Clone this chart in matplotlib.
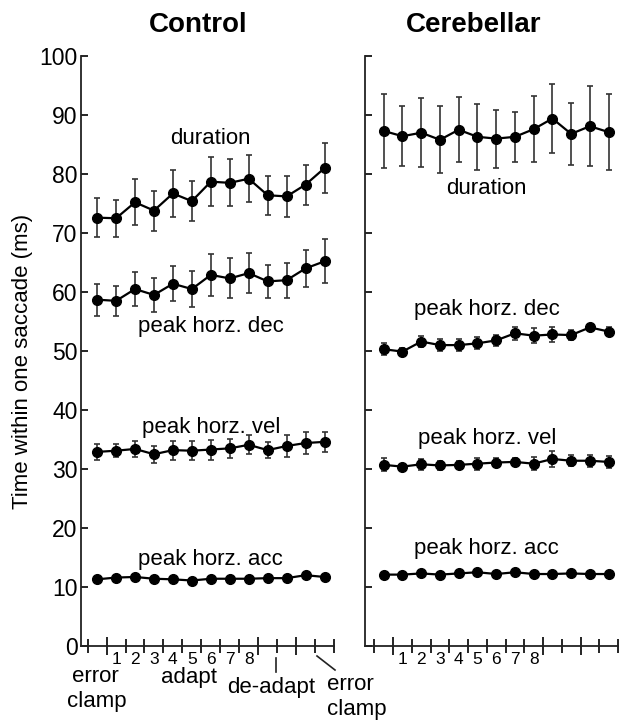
import numpy as np
import matplotlib
matplotlib.use("Agg")
import matplotlib.pyplot as plt
from matplotlib.transforms import blended_transform_factory
from matplotlib.lines import Line2D

plt.rcParams['font.family'] = ['Liberation Sans', 'DejaVu Sans']

# Data: 13 blocks (error clamp, adapt 1-8, de-adapt, error clamp)
x = np.arange(1, 14)
adapt_ticks = [2, 3, 4, 5, 6, 7, 8, 9]
adapt_labels = ['1', '2', '3', '4', '5', '6', '7', '8']

ctrl_dur = [72.6, 72.5, 75.2, 73.8, 76.7, 75.4, 78.7, 78.5, 79.2, 76.4, 76.2, 78.2, 81.0]
ctrl_dur_err = [3.3, 3.1, 3.9, 3.4, 4.0, 3.4, 4.2, 4.0, 4.0, 3.3, 3.5, 3.4, 4.2]
ctrl_dec = [58.7, 58.5, 60.5, 59.5, 61.4, 60.5, 62.9, 62.3, 63.2, 61.8, 62.0, 64.0, 65.2]
ctrl_dec_err = [2.7, 2.6, 2.9, 2.9, 3.0, 3.0, 3.6, 3.4, 3.4, 2.8, 3.0, 3.2, 3.7]
ctrl_vel = [32.9, 33.1, 33.4, 32.5, 33.2, 33.1, 33.3, 33.5, 34.1, 33.2, 33.9, 34.4, 34.6]
ctrl_vel_err = [1.3, 1.1, 1.4, 1.4, 1.6, 1.6, 1.7, 1.6, 1.6, 1.4, 1.8, 1.8, 1.7]
ctrl_acc = [11.3, 11.6, 11.7, 11.4, 11.3, 11.1, 11.4, 11.4, 11.4, 11.5, 11.5, 12.0, 11.7]
ctrl_acc_err = [0.4, 0.4, 0.4, 0.4, 0.4, 0.4, 0.4, 0.4, 0.4, 0.4, 0.4, 0.4, 0.4]

cereb_dur = [87.3, 86.4, 87.0, 85.8, 87.5, 86.3, 86.0, 86.3, 87.6, 89.4, 86.8, 88.1, 87.1]
cereb_dur_err = [6.2, 5.1, 5.8, 5.7, 5.5, 5.6, 4.9, 4.2, 5.6, 5.8, 5.3, 6.8, 6.5]
cereb_dec = [50.3, 49.9, 51.6, 51.0, 51.0, 51.3, 51.8, 53.0, 52.6, 52.8, 52.7, 54.0, 53.3]
cereb_dec_err = [1.0, 0.6, 0.9, 1.0, 1.0, 1.0, 0.9, 1.1, 1.3, 1.2, 0.9, 0.6, 0.8]
cereb_vel = [30.7, 30.4, 30.8, 30.6, 30.7, 30.9, 31.1, 31.2, 30.9, 31.7, 31.4, 31.4, 31.2]
cereb_vel_err = [1.1, 0.5, 0.9, 0.8, 0.6, 1.0, 0.8, 0.7, 1.1, 1.3, 0.9, 1.0, 1.0]
cereb_acc = [12.1, 12.1, 12.3, 12.1, 12.3, 12.5, 12.2, 12.5, 12.2, 12.2, 12.3, 12.2, 12.2]
cereb_acc_err = [0.4, 0.4, 0.4, 0.4, 0.4, 0.4, 0.4, 0.4, 0.4, 0.4, 0.4, 0.4, 0.4]

series_names = ['duration', 'peak horz. dec', 'peak horz. vel', 'peak horz. acc']
ctrl_label_pos = [(7.0, 86.0), (7.0, 54.1), (7.0, 37.0), (7.0, 14.6)]
cereb_label_pos = [(6.5, 77.5), (6.5, 57.0), (6.5, 35.2), (6.5, 16.5)]

W, H = 619, 721
fig = plt.figure(figsize=(W / 100, H / 100), dpi=100)
ax1 = fig.add_axes([81 / W, 1 - 646 / H, (334 - 81) / W, (646 - 56) / H])
ax2 = fig.add_axes([365 / W, 1 - 646 / H, (618 - 365) / W, (646 - 56) / H])


def draw_panel(ax, means, errs, label_pos, x0):
    for m, e in zip(means, errs):
        ax.errorbar(x, m, yerr=e, color='black', ecolor='#333333', elinewidth=1.2,
                    capsize=2.5, capthick=1.2, lw=1.6, marker='o', ms=7, zorder=3)
    for name, (lx, ly) in zip(series_names, label_pos):
        ax.text(lx, ly, name, ha='center', va='center', fontsize=16)
    ax.set_xlim(x0, 13.5)
    ax.set_ylim(0, 100)
    ax.spines['top'].set_visible(False)
    ax.spines['right'].set_visible(False)
    for s in ['left', 'bottom']:
        ax.spines[s].set_linewidth(1.3)
        ax.spines[s].set_color('#222222')
    ax.set_yticks(np.arange(0, 101, 10))
    ax.tick_params(axis='y', direction='in', length=5, width=1.2, labelsize=16.5, pad=2.5)
    # block boundaries as long ticks, other half steps as short ticks
    ax.set_xticks([1.5, 9.5, 11.5])
    ax.set_xticklabels([])
    ax.set_xticks([0.5, 2.5, 3.5, 4.5, 5.5, 6.5, 7.5, 8.5, 10.5, 12.5, 13.5], minor=True)
    ax.tick_params(axis='x', which='major', direction='inout', length=13, width=1.2)
    ax.tick_params(axis='x', which='minor', direction='inout', length=10, width=1.2)
    tr = blended_transform_factory(ax.transData, ax.transAxes)
    for t, lab in zip(adapt_ticks, adapt_labels):
        ax.text(t, -0.011, lab, transform=tr, ha='center', va='top', fontsize=12.5)


draw_panel(ax1, [ctrl_dur, ctrl_dec, ctrl_vel, ctrl_acc],
           [ctrl_dur_err, ctrl_dec_err, ctrl_vel_err, ctrl_acc_err], ctrl_label_pos, 0.15)
draw_panel(ax2, [cereb_dur, cereb_dec, cereb_vel, cereb_acc],
           [cereb_dur_err, cereb_dec_err, cereb_vel_err, cereb_acc_err], cereb_label_pos, 0.0)
ax2.set_yticklabels([])

# titles and axis label
fig.text(198 / W, 1 - 25 / H, 'Control', ha='center', va='center', fontsize=20, fontweight='bold')
fig.text(474 / W, 1 - 25 / H, 'Cerebellar', ha='center', va='center', fontsize=20, fontweight='bold')
fig.text(23 / W, 1 - 361 / H, 'Time within one saccade (ms)', rotation=90,
         ha='center', va='center', fontsize=16)

# phase labels under the control panel
fs = 16
fig.text(95 / W, 1 - 677 / H, 'error', ha='center', va='center', fontsize=fs)
fig.text(97 / W, 1 - 701 / H, 'clamp', ha='center', va='center', fontsize=fs)
fig.text(189 / W, 1 - 678 / H, 'adapt', ha='center', va='center', fontsize=fs)
fig.text(271 / W, 1 - 688 / H, 'de-adapt', ha='center', va='center', fontsize=fs)
fig.text(327 / W, 1 - 685 / H, 'error', ha='left', va='center', fontsize=fs)
fig.text(327 / W, 1 - 709 / H, 'clamp', ha='left', va='center', fontsize=fs)
fig.add_artist(Line2D([276 / W, 276 / W], [1 - 658 / H, 1 - 672 / H], color='#222222', lw=1.2))
fig.add_artist(Line2D([317 / W, 335 / W], [1 - 656 / H, 1 - 670 / H], color='#222222', lw=1.2))

fig.savefig('out.png', dpi=100)
